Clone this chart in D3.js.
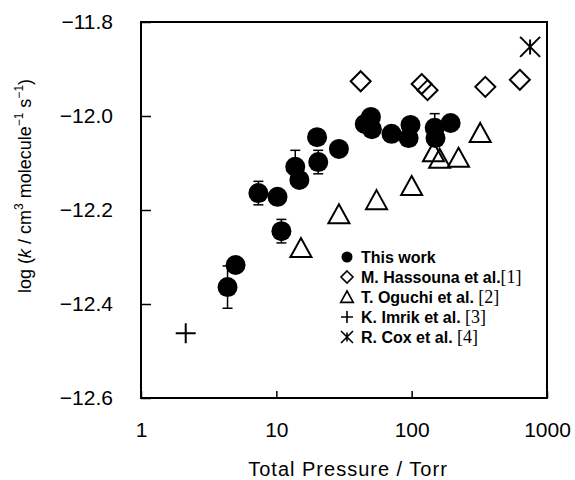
<!DOCTYPE html>
<html>
<head>
<meta charset="utf-8">
<script src="https://cdn.jsdelivr.net/npm/d3@7"></script>
<style>
  body { margin: 0; background: #fff; }
  text { font-family: "Liberation Sans", Arial, sans-serif; fill: #000; }
</style>
</head>
<body>
<script>
// this work
let workP = [4.36, 5.0, 7.37, 10.2, 10.9, 13.8, 14.8, 20, 20.4, 29, 45, 50, 50.8, 71, 98, 95, 148, 150, 194]
let workK = [-12.364, -12.317, -12.164, -12.172, -12.245, -12.108, -12.136, -12.045, -12.098, -12.070,
  -12.017, -12.002, -12.028, -12.038, -12.019, -12.047, -12.025, -12.047, -12.015]
let workErr = [0.045, 0.015, 0.025, 0, 0.025, 0.035, 0, 0, 0.025, 0, 0, 0, 0, 0, 0, 0, 0.03, 0, 0]

// M. Hassouna
let hassP = [42, 118.5, 131, 350, 630]
let hassK = [-11.926, -11.932, -11.945, -11.938, -11.923]

// T. Oguchi
let oguP = [15.2, 29, 55, 100, 145, 161, 222, 321]
let oguK = [-12.281, -12.209, -12.179, -12.149, -12.077, -12.091, -12.089, -12.036]

// K. Imrik
let imrP = [2.14]
let imrK = [-12.462]

// R. Cox
let coxP = [750]
let coxK = [-11.853]

let xTicks = [1, 10, 100, 1000]
let yTicks = [-12.6, -12.4, -12.2, -12.0, -11.8]

let width = 575
let height = 480
let margin = { top: 22, bottom: 82, left: 141, right: 28 }

const svg = d3.select("body")
  .append("svg")
  .attr("width", width)
  .attr("height", height)

var x = d3.scaleLog()
  .domain([1, 1000])
  .range([margin.left, width - margin.right])

var y = d3.scaleLinear()
  .domain([-12.6, -11.8])
  .range([height - margin.bottom, margin.top])

// frame
svg.append("rect")
  .attr("x", x(1)).attr("y", y(-11.8))
  .attr("width", x(1000) - x(1)).attr("height", y(-12.6) - y(-11.8))
  .attr("fill", "none").attr("stroke", "#000").attr("stroke-width", 2)

// axes, ticks inward
svg.append("g")
  .attr("transform", `translate(0,${y(-12.6)})`)
  .call(d3.axisBottom(x).tickValues(xTicks).tickSize(-7).tickPadding(24)
    .tickFormat(d3.format("d")))
  .call(g => g.select(".domain").remove())
  .call(g => g.selectAll("line").attr("stroke-width", 1.5))
  .call(g => g.selectAll("text").attr("font-size", 21).attr("font-family", "Liberation Sans, Arial, sans-serif"))

svg.append("g")
  .attr("transform", `translate(${x(1)},0)`)
  .call(d3.axisLeft(y).tickValues(yTicks).tickSize(-10).tickPadding(28)
    .tickFormat(d => d3.format(".1f")(d).replace("-", "\u2212")))
  .call(g => g.select(".domain").remove())
  .call(g => g.selectAll("line").attr("stroke-width", 1.5))
  .call(g => g.selectAll("text").attr("font-size", 21).attr("font-family", "Liberation Sans, Arial, sans-serif"))

// axis titles
svg.append("text")
  .attr("x", 348).attr("y", 476)
  .attr("text-anchor", "middle")
  .attr("font-size", 20)
  .attr("letter-spacing", 1)
  .text("Total Pressure / Torr")

const yt = svg.append("text")
  .attr("transform", "translate(31,186) rotate(-90)")
  .attr("text-anchor", "middle")
  .attr("font-size", 18)
yt.append("tspan").text("log (")
yt.append("tspan").attr("font-style", "italic").text("k")
yt.append("tspan").text(" / cm")
yt.append("tspan").attr("font-size", 12).attr("dy", -8).text("3")
yt.append("tspan").attr("dy", 8).text(" molecule")
yt.append("tspan").attr("font-size", 12).attr("dy", -8).text("\u22121")
yt.append("tspan").attr("dy", 8).text(" s")
yt.append("tspan").attr("font-size", 12).attr("dy", -8).text("\u22121")
yt.append("tspan").attr("dy", 8).text(")")

// symbol paths
const diamond = s => `M0,${-s}L${s},0L0,${s}L${-s},0Z`
const triangle = s => `M0,${-s}L${s * 1.05},${s * 0.9}L${-s * 1.05},${s * 0.9}Z`
const plus = s => `M${-s},0H${s}M0,${-s}V${s}`
const star = s => `M${-s},${-s}L${s},${s}M${-s},${s}L${s},${-s}M0,${-s * 0.75}V${s * 0.75}`

// error bars
const workData = workP.map((p, i) => ({ p: p, k: workK[i], e: workErr[i] }))
const eb = svg.append("g").attr("stroke", "#000").attr("stroke-width", 1.5)
workData.filter(d => d.e > 0).forEach(d => {
  eb.append("line").attr("x1", x(d.p)).attr("x2", x(d.p))
    .attr("y1", y(d.k - d.e)).attr("y2", y(d.k + d.e))
  eb.append("line").attr("x1", x(d.p) - 5).attr("x2", x(d.p) + 5)
    .attr("y1", y(d.k - d.e)).attr("y2", y(d.k - d.e))
  eb.append("line").attr("x1", x(d.p) - 5).attr("x2", x(d.p) + 5)
    .attr("y1", y(d.k + d.e)).attr("y2", y(d.k + d.e))
})

svg.append("g")
  .selectAll("circle")
  .data(workData)
  .join("circle")
  .attr("cx", d => x(d.p))
  .attr("cy", d => y(d.k))
  .attr("r", 10)
  .attr("fill", "#000")

function openMarks(ps, ks, path) {
  svg.append("g")
    .selectAll("path")
    .data(ps.map((p, i) => ({ p: p, k: ks[i] })))
    .join("path")
    .attr("d", path)
    .attr("transform", d => `translate(${x(d.p)},${y(d.k)})`)
    .attr("fill", "none")
    .attr("stroke", "#000")
    .attr("stroke-width", 2)
}
openMarks(hassP, hassK, diamond(10))
openMarks(oguP, oguK, triangle(10))
openMarks(imrP, imrK, plus(10))
openMarks(coxP, coxK, star(10))

// legend
let legendNames = ["This work", "M. Hassouna et al.", "T. Oguchi et al. ", "K. Imrik et al. ", "R. Cox et al. "]
let legendRefs = ["", "[1]", "[2]", "[3]", "[4]"]
const leg = svg.append("g").attr("transform", "translate(347,257)")
legendNames.forEach((name, i) => {
  const row = leg.append("g").attr("transform", `translate(0,${i * 20})`)
  if (i == 0) row.append("circle").attr("r", 5.5).attr("fill", "#000")
  else {
    const sym = [null, diamond(6), triangle(6), plus(6), star(6)][i]
    row.append("path").attr("d", sym).attr("fill", "none").attr("stroke", "#000").attr("stroke-width", 1.6)
  }
  const t = row.append("text").attr("x", 14).attr("y", 6).attr("font-size", 16).attr("font-weight", "bold")
  t.append("tspan").text(name)
  t.append("tspan").attr("font-family", "Liberation Serif, serif").attr("font-weight", "normal")
    .attr("font-size", 18).text(legendRefs[i])
})
</script>
</body>
</html>
